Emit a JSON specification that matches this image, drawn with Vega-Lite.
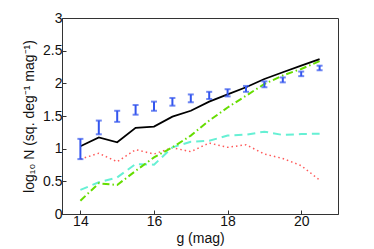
{
  "$schema": "https://vega.github.io/schema/vega-lite/v6.json",
  "autosize": {"type": "none"},
  "padding": {"left": 62, "top": 18, "right": 36, "bottom": 35},
  "width": 276,
  "height": 196,
  "background": "white",
  "config": {
    "view": {"stroke": "#333333", "strokeWidth": 1},
    "font": "Liberation Sans",
    "axis": {
      "grid": false,
      "domainColor": "#333333",
      "tickColor": "#333333",
      "tickSize": -4,
      "labelOverlap": false,
      "labelFont": "Liberation Sans",
      "labelFontSize": 14,
      "labelColor": "#111111",
      "titleFont": "Liberation Sans",
      "titleFontSize": 14,
      "titleFontWeight": "normal",
      "titleColor": "#111111"
    }
  },
  "data": {
    "values": [
      {"g": 14.0, "lo": 0.84, "hi": 1.15, "total": 1.036, "green": 0.204, "cyan": 0.37, "red": 0.84},
      {"g": 14.5, "lo": 1.22, "hi": 1.43, "total": 1.173, "green": 0.47, "cyan": 0.485, "red": 0.93},
      {"g": 15.0, "lo": 1.41, "hi": 1.58, "total": 1.097, "green": 0.444, "cyan": 0.56, "red": 0.80},
      {"g": 15.5, "lo": 1.52, "hi": 1.668, "total": 1.32, "green": 0.66, "cyan": 0.765, "red": 0.985},
      {"g": 16.0, "lo": 1.58, "hi": 1.72, "total": 1.337, "green": 0.867, "cyan": 0.755, "red": 0.918},
      {"g": 16.5, "lo": 1.658, "hi": 1.776, "total": 1.49, "green": 1.02, "cyan": 1.02, "red": 1.015},
      {"g": 17.0, "lo": 1.71, "hi": 1.83, "total": 1.58, "green": 1.2, "cyan": 1.107, "red": 0.954},
      {"g": 17.5, "lo": 1.76, "hi": 1.87, "total": 1.72, "green": 1.43, "cyan": 1.12, "red": 1.087},
      {"g": 18.0, "lo": 1.80, "hi": 1.91, "total": 1.83, "green": 1.63, "cyan": 1.2, "red": 1.02},
      {"g": 18.5, "lo": 1.87, "hi": 1.96, "total": 1.94, "green": 1.81, "cyan": 1.214, "red": 1.06},
      {"g": 19.0, "lo": 1.94, "hi": 2.03, "total": 2.066, "green": 1.99, "cyan": 1.26, "red": 0.918},
      {"g": 19.5, "lo": 2.015, "hi": 2.09, "total": 2.17, "green": 2.12, "cyan": 1.21, "red": 0.85},
      {"g": 20.0, "lo": 2.11, "hi": 2.18, "total": 2.27, "green": 2.22, "cyan": 1.224, "red": 0.74},
      {"g": 20.5, "lo": 2.20, "hi": 2.27, "total": 2.37, "green": 2.34, "cyan": 1.23, "red": 0.52}
    ]
  },
  "encoding": {
    "x": {
      "field": "g", "type": "quantitative",
      "scale": {"domain": [13.5, 21], "nice": false, "zero": false},
      "axis": {"title": "g (mag)", "values": [14, 16, 18, 20], "labelPadding": 4, "titlePadding": 3, "format": "d"}
    }
  },
  "layer": [
    {
      "mark": {"type": "line", "color": "#ff5a5a", "strokeWidth": 1.5, "strokeDash": [1.5, 3]},
      "encoding": {
        "y": {
          "field": "red", "type": "quantitative",
          "title": "log₁₀ N (sq. deg⁻¹ mag⁻¹)",
          "scale": {"domain": [0, 3], "nice": false},
          "axis": {"values": [0, 0.5, 1, 1.5, 2, 2.5, 3], "format": ".1~f", "labelPadding": 4, "titlePadding": 6}
        }
      }
    },
    {
      "mark": {"type": "line", "color": "#66f0d4", "strokeWidth": 2, "strokeDash": [8, 5]},
      "encoding": {"y": {"field": "cyan", "type": "quantitative", "title": "log₁₀ N (sq. deg⁻¹ mag⁻¹)", "axis": {"values": [0, 0.5, 1, 1.5, 2, 2.5, 3], "format": ".1~f", "labelPadding": 4, "titlePadding": 6}}}
    },
    {
      "mark": {"type": "line", "color": "#66dd00", "strokeWidth": 2, "strokeDash": [7, 3, 1.5, 3]},
      "encoding": {"y": {"field": "green", "type": "quantitative", "title": "log₁₀ N (sq. deg⁻¹ mag⁻¹)", "axis": {"values": [0, 0.5, 1, 1.5, 2, 2.5, 3], "format": ".1~f", "labelPadding": 4, "titlePadding": 6}}}
    },
    {
      "mark": {"type": "line", "color": "#000000", "strokeWidth": 1.8},
      "encoding": {"y": {"field": "total", "type": "quantitative", "title": "log₁₀ N (sq. deg⁻¹ mag⁻¹)", "axis": {"values": [0, 0.5, 1, 1.5, 2, 2.5, 3], "format": ".1~f", "labelPadding": 4, "titlePadding": 6}}}
    },
    {
      "mark": {"type": "errorbar", "ticks": true, "size": 6, "thickness": 2, "color": "#3355ee"},
      "encoding": {
        "y": {"field": "lo", "type": "quantitative", "title": "log₁₀ N (sq. deg⁻¹ mag⁻¹)", "axis": {"values": [0, 0.5, 1, 1.5, 2, 2.5, 3], "format": ".1~f", "labelPadding": 4, "titlePadding": 6}},
        "y2": {"field": "hi"}
      }
    }
  ]
}
